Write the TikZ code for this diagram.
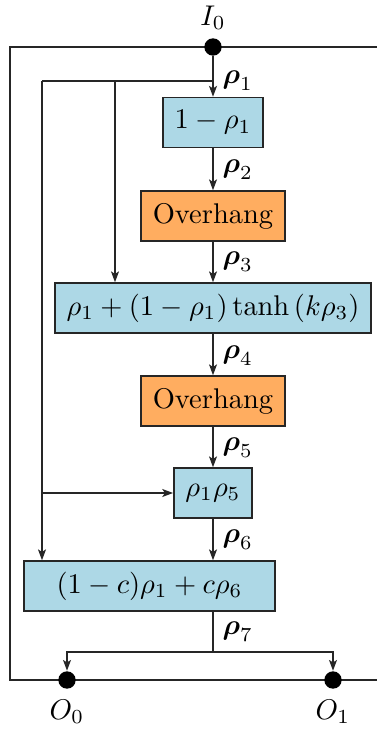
\documentclass[tikz,border=0pt]{standalone}
\usepackage{amsmath}
\usetikzlibrary{arrows.meta,calc}
\definecolor{boxblue}{RGB}{173,216,230}
\definecolor{boxorange}{RGB}{255,173,96}
\begin{document}
\begin{tikzpicture}[x=0.351pt,y=-0.351pt,
  line/.style={draw=black!85, line width=0.5pt},
  arr/.style={line, -{Stealth[length=3.8pt,width=2.8pt,inset=0.9pt]}},
  bluebox/.style={draw=black!85, line width=0.5pt, fill=boxblue, minimum height=17.6pt, inner xsep=4.1pt, inner ysep=0pt, anchor=center},
  orangebox/.style={bluebox, fill=boxorange},
  dot/.style={circle, fill=black, inner sep=0pt, minimum size=6.1pt},
  lab/.style={anchor=west, inner sep=0pt},
  txt/.style={inner sep=0pt}
]
\useasboundingbox (0,0) rectangle (377,731);

% frame lines
\coordinate (tl) at (10,47);
\coordinate (tr) at (377,47);
\coordinate (bl) at (10,680);
\coordinate (brr) at (377,680);
\draw[line] (tr) -- (tl) -- (bl) -- (brr);

% dots
\node[dot] (I0) at (213,47) {};
\node[dot] (O0) at (67,680) {};
\node[dot] (O1) at (333,680) {};
\node[txt] (tI0) at (213,18) {$I_0$};
\node[txt] (tO0) at (67,712) {$O_0$};
\node[txt] (tO1) at (333,712) {$O_1$};

% boxes
\node[bluebox] (b1) at (213,122.5) {$1-\rho_1$};
\node[orangebox] (b2) at (213,216) {Overhang};
\node[bluebox] (b3) at (213,308) {$\rho_1+(1-\rho_1)\tanh\left(k\rho_3\right)$};
\node[orangebox] (b4) at (213,401) {Overhang};
\node[bluebox] (b5) at (213,493) {$\rho_1\rho_5$};
\node[bluebox, minimum width=88pt] (b6) at (149.5,586) {$(1-c)\rho_1+c\rho_6$};

% main chain
\draw[arr] (I0) -- (b1);
\draw[arr] (b1) -- (b2);
\draw[arr] (b2) -- (b3);
\draw[arr] (b3) -- (b4);
\draw[arr] (b4) -- (b5);
\draw[arr] (b5) -- (b5 |- b6.north);

% branch lines for rho_1
\coordinate (j1) at (213,81);
\coordinate (j2) at (115,81);
\coordinate (j3) at (42,81);
\draw[line] (j1) -- (j3);
\draw[arr] (j2) -- (j2 |- b3.north);
\draw[arr] (j3) -- (j3 |- b6.north);
\draw[arr] (j3 |- b5.west) -- (b5.west);

% outputs
\coordinate (s) at (213,652);
\draw[line] (b6.south -| s) -- (s);
\draw[arr] (s) -| (O0);
\draw[arr] (s) -| (O1);

% labels
\node[lab] (l1) at (222,81) {$\boldsymbol{\rho}_1$};
\node[lab] (l2) at (222,170) {$\boldsymbol{\rho}_2$};
\node[lab] (l3) at (222,262) {$\boldsymbol{\rho}_3$};
\node[lab] (l4) at (222,356) {$\boldsymbol{\rho}_4$};
\node[lab] (l5) at (222,448) {$\boldsymbol{\rho}_5$};
\node[lab] (l6) at (222,540) {$\boldsymbol{\rho}_6$};
\node[lab] (l7) at (222,632) {$\boldsymbol{\rho}_7$};
\end{tikzpicture}
\end{document}
